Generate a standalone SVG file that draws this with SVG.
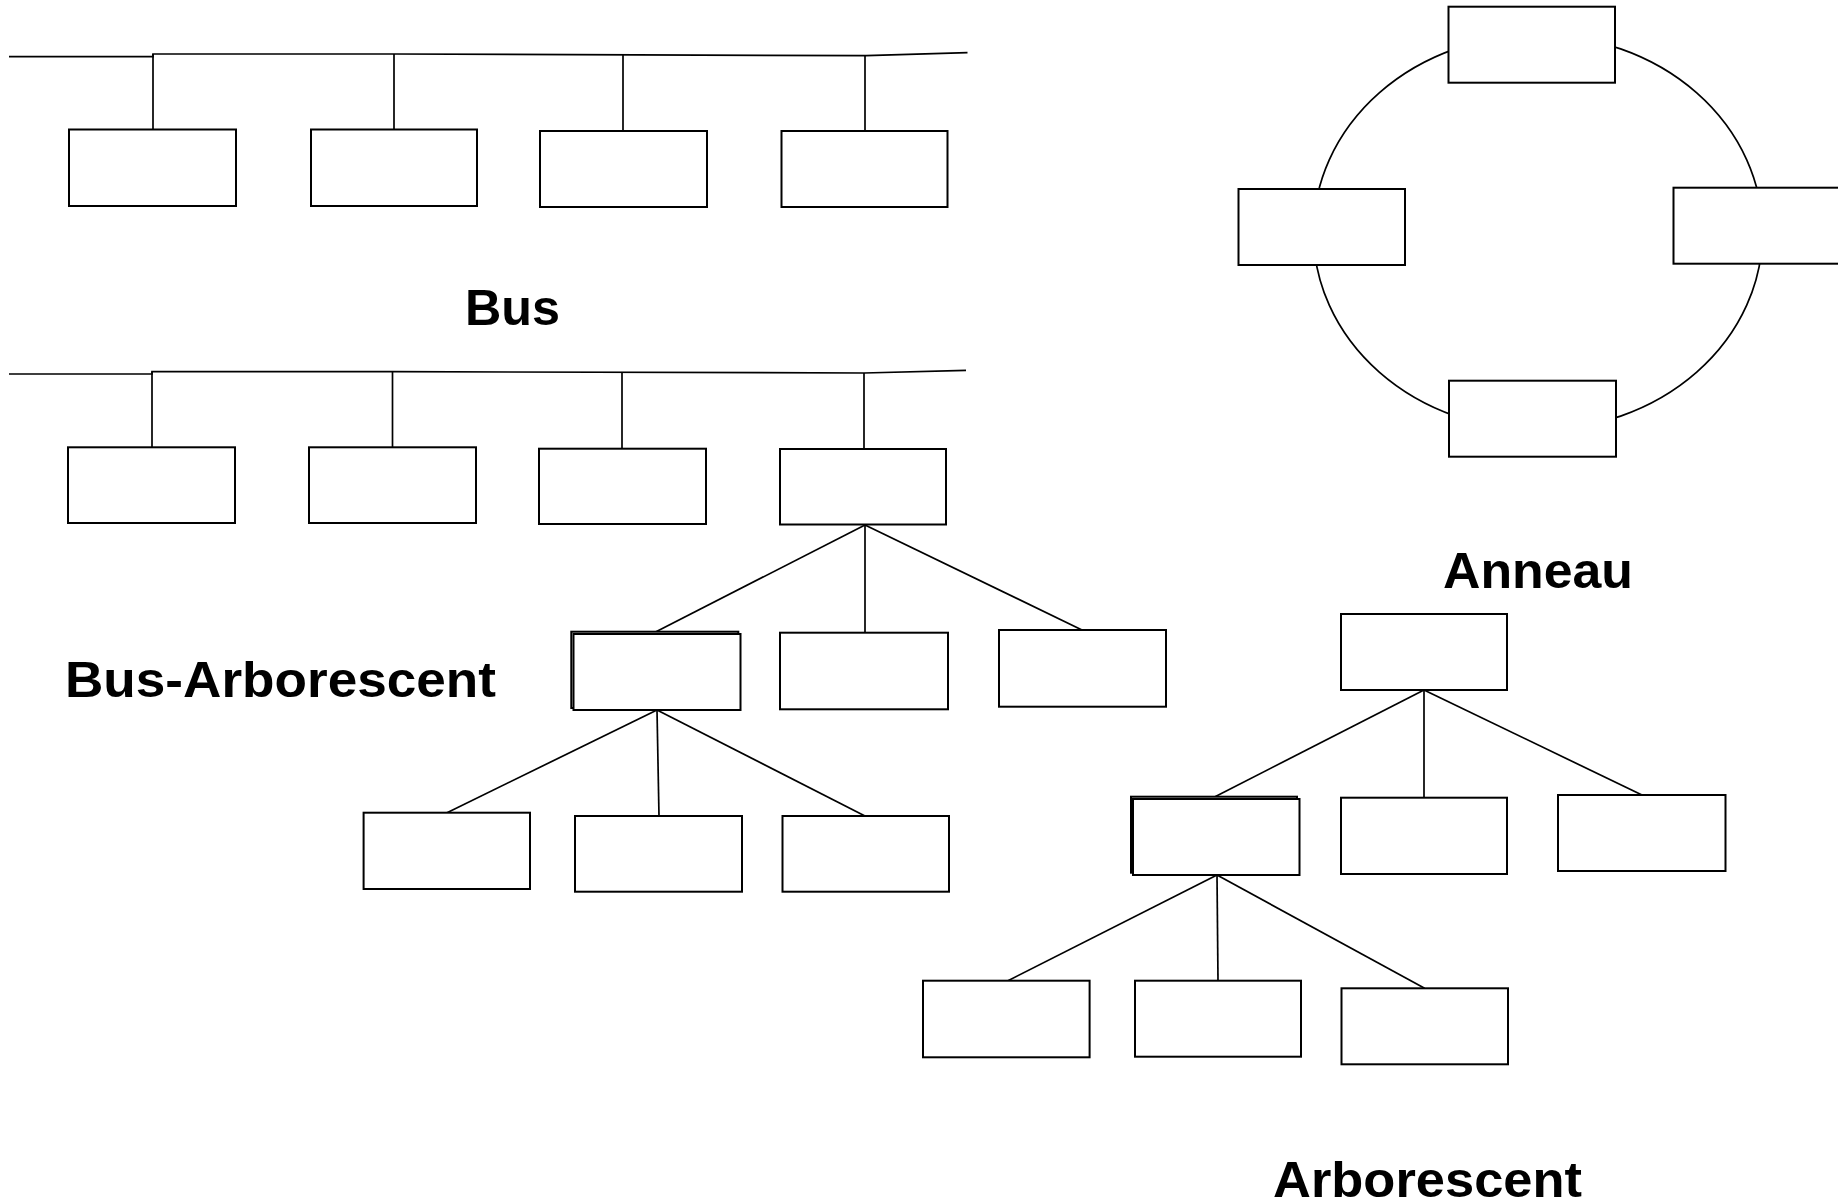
<svg xmlns="http://www.w3.org/2000/svg" width="1838" height="1199" viewBox="0 0 1838 1199">
<style>
.box{fill:#fff;stroke:#000;stroke-width:2}
.ln{fill:none;stroke:#000;stroke-width:1.7}
.lbl{font-family:"Liberation Sans",Arial,sans-serif;font-weight:bold;font-size:50px;fill:#000}
</style>
<rect width="1838" height="1199" fill="#fff"/>
<g id="connectors">
  <!-- Bus -->
  <polyline class="ln" points="9,56.7 153,56.7 153,54 394,54 866,55.7 967.5,52.7"/>
  <line class="ln" x1="153" y1="54" x2="153" y2="129.5"/>
  <line class="ln" x1="394" y1="54" x2="394" y2="129.5"/>
  <line class="ln" x1="623" y1="55" x2="623" y2="131"/>
  <line class="ln" x1="865" y1="55.7" x2="865" y2="131"/>
  <!-- Bus-Arborescent -->
  <polyline class="ln" points="9,374 152,374 152,371.7 392.5,371.7 864,373 966,370.3"/>
  <line class="ln" x1="152" y1="371.7" x2="152" y2="447.3"/>
  <line class="ln" x1="392.5" y1="371.7" x2="392.5" y2="447.3"/>
  <line class="ln" x1="622" y1="372.5" x2="622" y2="448.7"/>
  <line class="ln" x1="864" y1="373" x2="864" y2="449"/>
  <line class="ln" x1="865" y1="525" x2="656" y2="631.7"/>
  <line class="ln" x1="865" y1="525" x2="865" y2="632.7"/>
  <line class="ln" x1="865" y1="525" x2="1082" y2="630"/>
  <line class="ln" x1="657" y1="710" x2="447" y2="812.7"/>
  <line class="ln" x1="657" y1="710" x2="659" y2="816"/>
  <line class="ln" x1="657" y1="710" x2="865" y2="816"/>
  <!-- Anneau -->
  <ellipse class="ln" cx="1538" cy="232.5" rx="224.5" ry="197.5"/>
  <!-- Arborescent -->
  <line class="ln" x1="1424" y1="690" x2="1215" y2="796.7"/>
  <line class="ln" x1="1424" y1="690" x2="1424" y2="797.7"/>
  <line class="ln" x1="1424" y1="690" x2="1642" y2="795"/>
  <line class="ln" x1="1217" y1="875" x2="1008" y2="980.7"/>
  <line class="ln" x1="1217" y1="875" x2="1218" y2="980.7"/>
  <line class="ln" x1="1217" y1="875" x2="1424.6" y2="988.3"/>
</g>
<!-- Bus nodes -->
<g id="bus-n1"><rect class="box" x="69" y="129.5" width="167" height="76.5"/></g>
<g id="bus-n2"><rect class="box" x="311" y="129.5" width="166" height="76.5"/></g>
<g id="bus-n3"><rect class="box" x="540" y="131" width="167" height="76"/></g>
<g id="bus-n4"><rect class="box" x="781.5" y="131" width="166" height="76"/></g>
<!-- Bus-Arborescent nodes -->
<g id="ba-n1"><rect class="box" x="68" y="447.3" width="167" height="75.7"/></g>
<g id="ba-n2"><rect class="box" x="309" y="447.3" width="167" height="75.7"/></g>
<g id="ba-n3"><rect class="box" x="539" y="448.7" width="167" height="75.3"/></g>
<g id="ba-n4"><rect class="box" x="780" y="449" width="166" height="75.5"/></g>
<g id="ba-a"><rect class="box" x="571.3" y="631.7" width="167" height="76.3"/><rect class="box" x="573.5" y="634" width="167" height="76"/></g>
<g id="ba-b"><rect class="box" x="780" y="632.7" width="168" height="76.6"/></g>
<g id="ba-c"><rect class="box" x="999" y="630" width="167" height="76.7"/></g>
<g id="ba-d"><rect class="box" x="363.6" y="812.7" width="166.4" height="76.3"/></g>
<g id="ba-e"><rect class="box" x="575" y="816" width="167" height="75.7"/></g>
<g id="ba-f"><rect class="box" x="782.5" y="816" width="166.5" height="75.7"/></g>
<!-- Anneau nodes -->
<g id="ring-top"><rect class="box" x="1448.5" y="6.7" width="166.5" height="76"/></g>
<g id="ring-left"><rect class="box" x="1238.5" y="189" width="166.5" height="76"/></g>
<g id="ring-right"><rect class="box" x="1673.5" y="187.7" width="170" height="76"/></g>
<g id="ring-bottom"><rect class="box" x="1449" y="380.7" width="167" height="76"/></g>
<!-- Arborescent nodes -->
<g id="arb-root"><rect class="box" x="1341" y="614" width="166" height="76"/></g>
<g id="arb-g"><rect class="box" x="1131" y="796.7" width="166" height="76"/><rect class="box" x="1133" y="799" width="166.5" height="76"/></g>
<g id="arb-h"><rect class="box" x="1341" y="797.7" width="166" height="76.3"/></g>
<g id="arb-i"><rect class="box" x="1558" y="795" width="167.5" height="76"/></g>
<g id="arb-j"><rect class="box" x="923" y="980.7" width="166.6" height="76.6"/></g>
<g id="arb-k"><rect class="box" x="1135" y="980.7" width="166" height="76"/></g>
<g id="arb-l"><rect class="box" x="1341.5" y="988.3" width="166.5" height="76"/></g>
<!-- Labels -->
<g id="labels">
  <text class="lbl" x="465" y="325" textLength="95" lengthAdjust="spacingAndGlyphs">Bus</text>
  <text class="lbl" x="65" y="697" textLength="431" lengthAdjust="spacingAndGlyphs">Bus-Arborescent</text>
  <text class="lbl" x="1443" y="587.5" textLength="190" lengthAdjust="spacingAndGlyphs">Anneau</text>
  <text class="lbl" x="1273" y="1196.5" textLength="309" lengthAdjust="spacingAndGlyphs">Arborescent</text>
</g>
</svg>
